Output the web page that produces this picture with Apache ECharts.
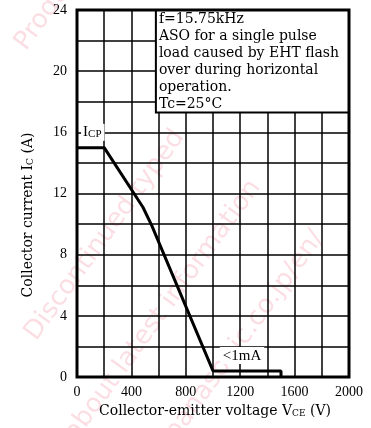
<!DOCTYPE html>
<html>
<head>
<meta charset="utf-8">
<script src="https://cdn.jsdelivr.net/npm/echarts@6/dist/echarts.min.js"></script>
<style>
  html, body { margin: 0; padding: 0; background: #fff; }
  #chart { width: 371px; height: 428px; }
</style>
</head>
<body>
<div id="chart"></div>
<script>
// Safe operating area curve (V_CE in volts, I_C in amps)
const voltage = [0, 200, 485, 550, 1000, 1500, 1500];
const current = [15, 15, 11.1, 9.9, 0.4, 0.4, 0];

const xTicks = [0, 400, 800, 1200, 1600, 2000];
const yTicks = [0, 4, 8, 12, 16, 20, 24];

const noteLines = [
    'f=15.75kHz',
    'ASO for a single pulse',
    'load caused by EHT flash',
    'over during horizontal',
    'operation.',
    'Tc=25°C'
];
// note box corners [V, I]
const noteFrom = [580, 17.3];
const noteTo = [2000, 24];

const SERIF = '"Liberation Serif", "DejaVu Serif", serif';
const WIDE = '"DejaVu Serif", serif';

const chart = echarts.init(document.getElementById('chart'));

const watermark = [
    { text: 'Product', x: 10, y: 40 },
    { text: 'Discontinued typed', x: 20, y: 330 },
    { text: 'about latest information', x: 60, y: 430 },
    { text: 'panasonic.co.jp/en/', x: 160, y: 430 }
].map(w => ({
    type: 'text',
    x: w.x, y: w.y,
    rotation: Math.PI * 0.3,
    z: -10,
    silent: true,
    style: {
        text: w.text,
        font: '26px "DejaVu Sans", sans-serif',
        fill: 'rgba(235, 90, 120, 0.2)'
    }
}));

chart.setOption({
    animation: false,
    grid: { left: 77, top: 10, right: 22, bottom: 51, show: false },
    xAxis: {
        type: 'value',
        min: 0, max: 2000, interval: 200,
        axisLine: { show: false },
        axisTick: { show: false },
        axisLabel: {
            margin: 8,
            color: '#000',
            fontFamily: SERIF,
            fontSize: 14,
            formatter: v => xTicks.includes(v) ? String(v) : ''
        },
        splitLine: { show: true, lineStyle: { color: '#000', width: 1.5 } }
    },
    yAxis: {
        type: 'value',
        min: 0, max: 24, interval: 2,
        axisLine: { show: false },
        axisTick: { show: false },
        axisLabel: {
            margin: 10,
            color: '#000',
            fontFamily: SERIF,
            fontSize: 14,
            formatter: v => yTicks.includes(v) ? String(v) : ''
        },
        splitLine: { show: true, lineStyle: { color: '#000', width: 1.5 } }
    },
    series: [{
        type: 'line',
        data: voltage.map((v, i) => [v, current[i]]),
        symbol: 'none',
        lineStyle: { color: '#000', width: 3 }
    }]
});

// labels, note box and frame placed through the chart's own scales
const p = (v, i) => chart.convertToPixel({ gridIndex: 0 }, [v, i]);
const tl = p(0, 24), br = p(2000, 0);
const n0 = p(noteFrom[0], noteTo[1]), n1 = p(noteTo[0], noteFrom[1]);
const icp = p(30, 16), ma = p(1050, 1.4);

chart.setOption({
    graphic: watermark.concat([
        {
            type: 'rect', z: 40,
            shape: { x: n0[0], y: n0[1], width: n1[0] - n0[0], height: n1[1] - n0[1] },
            style: { fill: '#fff', stroke: '#000', lineWidth: 2 }
        },
        {
            type: 'text', x: n0[0] + 3, y: n0[1] + 1, z: 45,
            style: {
                text: noteLines.join('\n'),
                font: '14px ' + WIDE,
                lineHeight: 17,
                fill: '#000'
            }
        },
        {
            type: 'rect', z: 50,
            shape: { x: tl[0], y: tl[1], width: br[0] - tl[0], height: br[1] - tl[1] },
            style: { fill: null, stroke: '#000', lineWidth: 3 }
        },
        {
            type: 'text', x: icp[0], y: icp[1], z: 60,
            style: {
                text: '{m|I}{s|CP}',
                verticalAlign: 'middle',
                backgroundColor: '#fff',
                padding: [1, 3, 1, 2],
                rich: {
                    m: { fontFamily: SERIF, fontSize: 15, fill: '#000' },
                    s: { fontFamily: SERIF, fontSize: 11, fill: '#000', padding: [4, 0, 0, 0] }
                }
            }
        },
        {
            type: 'text', x: ma[0], y: ma[1], z: 60,
            style: {
                text: '<1mA',
                verticalAlign: 'middle',
                backgroundColor: '#fff',
                padding: [1, 3, 1, 3],
                font: '15px ' + SERIF,
                fill: '#000'
            }
        },
        {
            type: 'text', x: 28, y: 215, rotation: Math.PI / 2, z: 60,
            style: {
                text: '{m|Collector current I}{s|C}{m| (A)}',
                align: 'center', verticalAlign: 'middle',
                rich: {
                    m: { fontFamily: WIDE, fontSize: 14, fill: '#000' },
                    s: { fontFamily: WIDE, fontSize: 9, fill: '#000', padding: [5, 0, 0, 0] }
                }
            }
        },
        {
            type: 'text', x: 215, y: 411, z: 60,
            style: {
                text: '{m|Collector-emitter voltage V}{s|CE}{m| (V)}',
                align: 'center', verticalAlign: 'middle',
                rich: {
                    m: { fontFamily: WIDE, fontSize: 14, fill: '#000' },
                    s: { fontFamily: WIDE, fontSize: 9, fill: '#000', padding: [5, 0, 0, 0] }
                }
            }
        }
    ])
});
</script>
</body>
</html>
